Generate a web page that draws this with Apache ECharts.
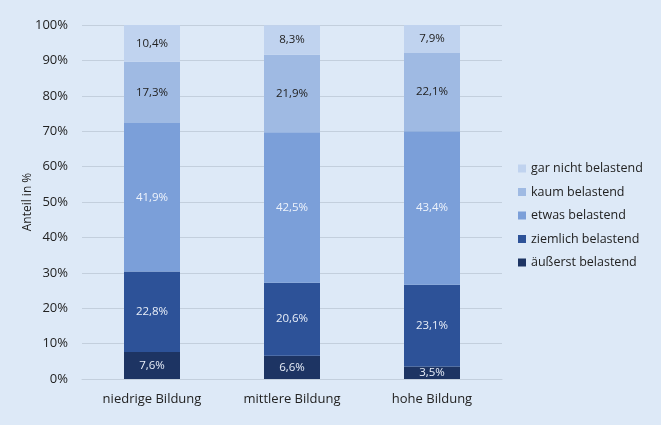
<!DOCTYPE html>
<html>
<head>
<meta charset="utf-8">
<script src="https://cdn.jsdelivr.net/npm/echarts@6/dist/echarts.min.js"></script>
<style>
  html, body { margin: 0; padding: 0; background: #dde9f7; }
  #chart { width: 661px; height: 425px; }
</style>
</head>
<body>
<div id="chart"></div>
<script>
const categories = ['niedrige Bildung', 'mittlere Bildung', 'hohe Bildung']
const aeusserst = [7.6, 6.6, 3.5]
const ziemlich = [22.8, 20.6, 23.1]
const etwas = [41.9, 42.5, 43.4]
const kaum = [17.3, 21.9, 22.1]
const garNicht = [10.4, 8.3, 7.9]

const fontFamily = '"Open Sans", "Liberation Sans", sans-serif'

function fmt (v) {
  return v.toFixed(1).replace('.', ',') + '%'
}

function makeSeries (name, data, color, labelColor) {
  return {
    name: name,
    type: 'bar',
    stack: 'total',
    barWidth: 56,
    data: data,
    itemStyle: { color: color },
    label: {
      show: true,
      position: 'inside',
      color: labelColor,
      fontFamily: fontFamily,
      fontSize: 11.5,
      formatter: p => fmt(p.value)
    }
  }
}

const chart = echarts.init(document.getElementById('chart'))
const option = {
  backgroundColor: '#dde9f7',
  animation: false,
  grid: {
    left: 82,
    right: 159,
    top: 25,
    bottom: 46
  },
  legend: {
    orient: 'vertical',
    left: 513,
    top: 157,
    itemWidth: 8,
    itemHeight: 8,
    itemGap: 10.5,
    icon: 'rect',
    textStyle: { fontFamily: fontFamily, fontSize: 12.5, color: '#222' },
    data: ['gar nicht belastend', 'kaum belastend', 'etwas belastend', 'ziemlich belastend', 'äußerst belastend']
  },
  xAxis: {
    type: 'category',
    data: categories,
    axisLine: { lineStyle: { color: '#c3cfdd' } },
    axisTick: { show: false },
    axisLabel: { fontFamily: fontFamily, fontSize: 13, color: '#222', margin: 14 }
  },
  yAxis: {
    type: 'value',
    min: 0,
    max: 100,
    interval: 10,
    name: 'Anteil in %',
    nameLocation: 'middle',
    nameRotate: 90,
    nameGap: 48,
    nameMoveOverlap: false,
    nameTextStyle: { fontFamily: fontFamily, fontSize: 12, color: '#222' },
    axisLabel: { fontFamily: fontFamily, fontSize: 13, color: '#222', formatter: '{value}%', margin: 14 },
    splitLine: { lineStyle: { color: '#c3cfdd' } }
  },
  series: [
    makeSeries('äußerst belastend', aeusserst, '#1d3463', '#e8eef8'),
    makeSeries('ziemlich belastend', ziemlich, '#2d5298', '#e8eef8'),
    makeSeries('etwas belastend', etwas, '#7b9fd9', '#eef3fb'),
    makeSeries('kaum belastend', kaum, '#9fbae3', '#222'),
    makeSeries('gar nicht belastend', garNicht, '#c0d3ef', '#222')
  ]
}
chart.setOption(option)
</script>
</body>
</html>
